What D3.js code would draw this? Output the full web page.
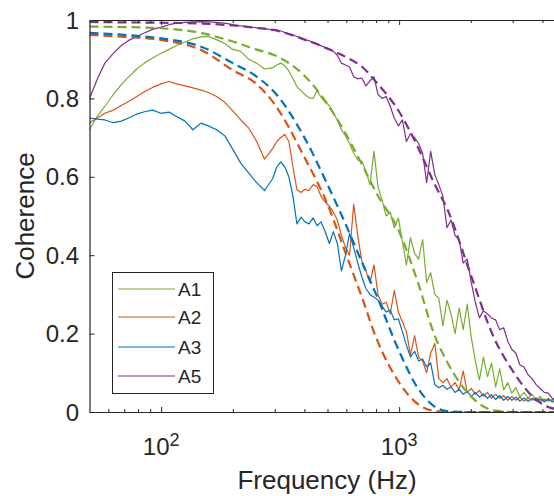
<!DOCTYPE html>
<html lang="en">
<head>
    <meta charset="UTF-8">
    <title>Coherence vs Frequency</title>
    <script src="https://d3js.org/d3.v7.min.js"></script>
    <style>
        body { margin: 0; background: #fff; }
        svg text { font-family: Arial, "Liberation Sans", Helvetica, sans-serif; fill: #262626; }
        .axis path, .axis line { stroke: #262626; }
    </style>
</head>
<body>
    <svg id="chart" width="554" height="496"></svg>

    <script>
        // Series names and colours (MATLAB default order)
        const seriesNames = ["A1", "A2", "A3", "A5"];
        const seriesColors = ["#77AC30", "#D95319", "#0072BD", "#7E2F8E"];

        // Measured coherence, sampled on a log frequency grid (Hz)
        const freq = [50, 54, 58, 63, 68, 73, 79, 85, 92, 100,
            108, 116, 126, 136, 147, 158, 171, 185, 200, 216,
            233, 252, 272, 294, 306, 318, 331, 344, 358, 372,
            387, 402, 418, 435, 452, 470, 489, 509, 529, 550,
            572, 595, 619, 644, 670, 697, 725, 754, 784, 815,
            848, 882, 917, 954, 992, 1032, 1073, 1116, 1161, 1207,
            1255, 1305, 1357, 1412, 1468, 1527, 1588, 1652, 1718, 1787,
            1858, 1932, 2010, 2090, 2174, 2261, 2351, 2445, 2543, 2645,
            2750, 2860, 2975, 3094, 3217, 3346, 3480, 3619, 3764, 3914,
            4071, 4234, 4403, 4579];

        const a1 = [0.72, 0.755, 0.78, 0.81, 0.835, 0.855, 0.875, 0.89, 0.903, 0.915,
            0.925, 0.935, 0.944, 0.952, 0.957, 0.958, 0.95, 0.94, 0.925, 0.92,
            0.90, 0.89, 0.875, 0.878, 0.885, 0.89, 0.883, 0.87, 0.85, 0.83,
            0.82, 0.81, 0.802, 0.80, 0.82, 0.803, 0.79, 0.782, 0.763, 0.745,
            0.72, 0.705, 0.685, 0.66, 0.643, 0.64, 0.615, 0.58, 0.665, 0.575,
            0.54, 0.50, 0.51, 0.47, 0.495, 0.435, 0.375, 0.445, 0.405, 0.39,
            0.44, 0.33, 0.355, 0.30, 0.29, 0.22, 0.285, 0.25, 0.20, 0.265,
            0.21, 0.275, 0.19, 0.13, 0.082, 0.14, 0.09, 0.125, 0.064, 0.11,
            0.056, 0.075, 0.048, 0.062, 0.038, 0.05, 0.035, 0.045, 0.03, 0.04,
            0.028, 0.035, 0.025, 0.03];

        const a2 = [0.738, 0.75, 0.762, 0.77, 0.782, 0.792, 0.805, 0.817, 0.828, 0.837,
            0.843, 0.837, 0.832, 0.827, 0.821, 0.815, 0.805, 0.79, 0.768, 0.745,
            0.725, 0.69, 0.645, 0.672, 0.69, 0.70, 0.708, 0.69, 0.625, 0.567,
            0.56, 0.568, 0.565, 0.58, 0.575, 0.55, 0.535, 0.525, 0.51, 0.49,
            0.45, 0.42, 0.40, 0.53, 0.45, 0.385, 0.36, 0.33, 0.375, 0.30,
            0.275, 0.28, 0.25, 0.31, 0.255, 0.23, 0.205, 0.145, 0.195, 0.14,
            0.13, 0.10, 0.15, 0.175, 0.085, 0.075, 0.085, 0.064, 0.075, 0.056,
            0.105, 0.05, 0.06, 0.045, 0.055, 0.04, 0.05, 0.035, 0.045, 0.035,
            0.042, 0.03, 0.04, 0.03, 0.038, 0.028, 0.035, 0.03, 0.036, 0.027,
            0.033, 0.028, 0.032, 0.03];

        const a3 = [0.75, 0.747, 0.745, 0.738, 0.742, 0.75, 0.76, 0.766, 0.77, 0.762,
            0.765, 0.754, 0.742, 0.72, 0.737, 0.73, 0.72, 0.705, 0.67, 0.635,
            0.61, 0.585, 0.565, 0.595, 0.625, 0.638, 0.625, 0.60, 0.55, 0.48,
            0.497, 0.485, 0.48, 0.495, 0.475, 0.485, 0.46, 0.43, 0.46, 0.43,
            0.36, 0.40, 0.455, 0.42, 0.38, 0.345, 0.315, 0.30, 0.293, 0.285,
            0.27, 0.255, 0.26, 0.235, 0.238, 0.205, 0.17, 0.14, 0.155, 0.13,
            0.135, 0.115, 0.125, 0.07, 0.062, 0.068, 0.058, 0.064, 0.05, 0.058,
            0.045, 0.052, 0.04, 0.05, 0.038, 0.046, 0.035, 0.044, 0.032, 0.042,
            0.03, 0.04, 0.03, 0.038, 0.028, 0.036, 0.027, 0.035, 0.028, 0.034,
            0.026, 0.032, 0.027, 0.03];

        const a5 = [0.80, 0.85, 0.89, 0.915, 0.935, 0.948, 0.958, 0.967, 0.976, 0.982,
            0.988, 0.992, 0.994, 0.995, 0.996, 0.995, 0.994, 0.992, 0.988, 0.985,
            0.983, 0.98, 0.978, 0.975, 0.974, 0.972, 0.968, 0.965, 0.962, 0.958,
            0.955, 0.95, 0.947, 0.943, 0.94, 0.934, 0.93, 0.925, 0.92, 0.91,
            0.89, 0.885, 0.88, 0.855, 0.85, 0.852, 0.832, 0.845, 0.855, 0.81,
            0.80, 0.805, 0.78, 0.75, 0.73, 0.745, 0.69, 0.71, 0.70, 0.685,
            0.66, 0.585, 0.665, 0.605, 0.58, 0.55, 0.47, 0.49, 0.45, 0.44,
            0.38, 0.39, 0.33, 0.28, 0.24, 0.258, 0.25, 0.24, 0.235, 0.21,
            0.215, 0.18, 0.16, 0.15, 0.12, 0.115, 0.095, 0.085, 0.07, 0.06,
            0.05, 0.048, 0.035, 0.03];

        // Model (dashed) coherence curves
        const fitFreq = [50, 70, 100, 150, 200, 250, 300, 400, 500, 600,
            700, 800, 1000, 1200, 1400, 1600, 2000, 2500, 3000, 3500, 4000, 5000];
        const a1Fit = [0.983, 0.982, 0.979, 0.966, 0.945, 0.925, 0.91, 0.858, 0.785, 0.707,
            0.63, 0.56, 0.46, 0.33, 0.20, 0.125, 0.04, 0.004, 0, 0, 0, 0];
        const a2Fit = [0.962, 0.957, 0.949, 0.921, 0.872, 0.838, 0.785, 0.65, 0.53, 0.40,
            0.29, 0.19, 0.075, 0.02, 0.003, 0, 0, 0, 0, 0, 0, 0];
        const a3Fit = [0.967, 0.962, 0.953, 0.93, 0.89, 0.857, 0.815, 0.70, 0.58, 0.475,
            0.38, 0.30, 0.155, 0.06, 0.015, 0.002, 0, 0, 0, 0, 0, 0];
        const a5Fit = [0.995, 0.994, 0.993, 0.991, 0.986, 0.98, 0.974, 0.95, 0.927, 0.905,
            0.88, 0.842, 0.766, 0.675, 0.585, 0.515, 0.35, 0.19, 0.105, 0.05, 0.02, 0.003];

        // Axis ticks
        const yTicks = [0, 0.2, 0.4, 0.6, 0.8, 1];
        const yTickLabels = ["0", "0.2", "0.4", "0.6", "0.8", "1"];
        const xMajorTicks = [100, 1000];
        const xTickExponents = ["2", "3"];
        const xMinorTicks = [60, 70, 80, 90, 200, 300, 400, 500, 600, 700, 800, 900,
            2000, 3000, 4000, 5000];

        const measured = [a1, a2, a3, a5];
        const fitted = [a1Fit, a2Fit, a3Fit, a5Fit];

        const svg = d3.select("#chart");
        const plot = { left: 89.5, right: 565.5, top: 20, bottom: 412 };

        const x = d3.scaleLog().domain([50, 5000]).range([plot.left, plot.right]);
        const y = d3.scaleLinear().domain([0, 1]).range([plot.bottom, plot.top]);

        svg.append("rect").attr("width", 554).attr("height", 496).attr("fill", "#fff");

        svg.append("clipPath").attr("id", "clip")
            .append("rect")
            .attr("x", plot.left).attr("y", plot.top)
            .attr("width", plot.right - plot.left).attr("height", plot.bottom - plot.top);

        const lines = svg.append("g").attr("clip-path", "url(#clip)");

        const line = d3.line()
            .x(d => x(d[0]))
            .y(d => y(d[1]));

        // Measured curves
        measured.forEach((vals, i) => {
            lines.append("path")
                .datum(freq.map((f, j) => [f, vals[j]]))
                .attr("fill", "none")
                .attr("stroke", seriesColors[i])
                .attr("stroke-width", 1.2)
                .attr("stroke-linejoin", "round")
                .attr("d", line);
        });

        // Model curves (dashed)
        const smooth = d3.line()
            .x(d => x(d[0]))
            .y(d => y(d[1]))
            .curve(d3.curveMonotoneX);

        fitted.forEach((vals, i) => {
            lines.append("path")
                .datum(fitFreq.map((f, j) => [f, vals[j]]))
                .attr("fill", "none")
                .attr("stroke", seriesColors[i])
                .attr("stroke-width", 2.2)
                .attr("stroke-dasharray", "9,5")
                .attr("d", smooth);
        });

        // Axes (ticks point inward, box on top)
        const axisColor = "#262626";
        svg.append("g").attr("class", "axis")
            .attr("transform", `translate(0,${plot.bottom})`)
            .call(d3.axisBottom(x).tickValues(xMinorTicks).tickSize(-3).tickSizeOuter(0).tickFormat(""))
            .call(g => g.selectAll(".tick line").attr("stroke", axisColor));
        svg.append("g").attr("class", "axis")
            .attr("transform", `translate(0,${plot.bottom})`)
            .call(d3.axisBottom(x).tickValues(xMajorTicks).tickSize(-5).tickSizeOuter(0).tickFormat(""))
            .call(g => g.select(".domain").remove());

        svg.append("g").attr("class", "axis")
            .attr("transform", `translate(0,${plot.top})`)
            .call(d3.axisTop(x).tickValues(xMinorTicks).tickSize(-3).tickSizeOuter(0).tickFormat(""));
        svg.append("g").attr("class", "axis")
            .attr("transform", `translate(0,${plot.top})`)
            .call(d3.axisTop(x).tickValues(xMajorTicks).tickSize(-5).tickSizeOuter(0).tickFormat(""))
            .call(g => g.select(".domain").remove());

        svg.append("g").attr("class", "axis")
            .attr("transform", `translate(${plot.left},0)`)
            .call(d3.axisLeft(y).tickValues(yTicks).tickSize(-5).tickSizeOuter(0).tickFormat(""));

        svg.selectAll(".axis .domain").attr("stroke-width", 1.2);

        // Y tick labels
        svg.append("g").selectAll("text")
            .data(yTicks)
            .enter().append("text")
            .attr("x", 79)
            .attr("y", d => y(d))
            .attr("dy", "0.36em")
            .attr("text-anchor", "end")
            .style("font-size", "24px")
            .text((d, i) => yTickLabels[i]);

        // X tick labels 10^n
        const xLab = svg.append("g").selectAll("text")
            .data(xMajorTicks)
            .enter().append("text")
            .attr("x", d => x(d))
            .attr("y", 455)
            .attr("text-anchor", "middle")
            .style("font-size", "24px");
        xLab.append("tspan").text("10");
        xLab.append("tspan")
            .attr("dy", -9)
            .style("font-size", "18px")
            .text((d, i) => xTickExponents[i]);

        // Axis titles
        svg.append("text")
            .attr("x", 327)
            .attr("y", 489)
            .attr("text-anchor", "middle")
            .style("font-size", "26px")
            .text("Frequency (Hz)");

        svg.append("text")
            .attr("transform", "translate(34,216) rotate(-90)")
            .attr("text-anchor", "middle")
            .style("font-size", "26px")
            .text("Coherence");

        // Legend
        const legend = svg.append("g");
        legend.append("rect")
            .attr("x", 112.5).attr("y", 272.5)
            .attr("width", 101).attr("height", 121)
            .attr("fill", "#fff")
            .attr("stroke", axisColor)
            .attr("stroke-width", 1);

        const legendRows = [289, 317, 347, 376];
        seriesNames.forEach((name, i) => {
            legend.append("line")
                .attr("x1", 118).attr("x2", 175)
                .attr("y1", legendRows[i]).attr("y2", legendRows[i])
                .attr("stroke", seriesColors[i])
                .attr("stroke-width", 1.2);
            legend.append("text")
                .attr("x", 178)
                .attr("y", legendRows[i])
                .attr("dy", "0.36em")
                .style("font-size", "19px")
                .text(name);
        });
    </script>
</body>
</html>
